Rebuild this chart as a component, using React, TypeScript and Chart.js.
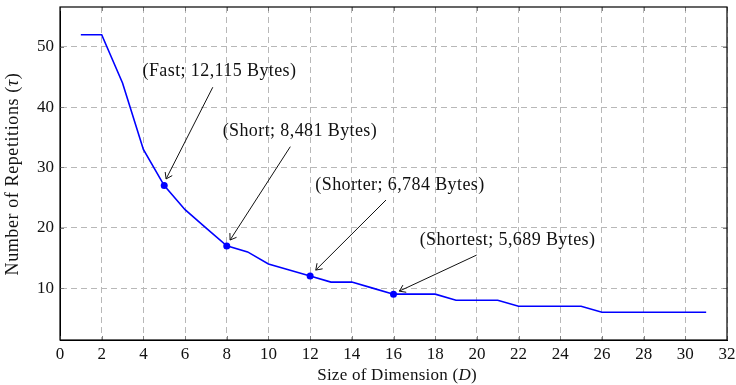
import React, { useEffect, useRef } from 'react';
import { Chart, registerables } from 'chart.js';

Chart.register(...registerables);

const dimensions = [1, 2, 3, 4, 5, 6, 7, 8, 9, 10, 11, 12, 13, 14, 15, 16, 17, 18, 19, 20, 21, 22, 23, 24, 25, 26, 27, 28, 29, 30, 31];
const repetitions = [52, 52, 44, 33, 27, 23, 20, 17, 16, 14, 13, 12, 11, 11, 10, 9, 9, 9, 8, 8, 8, 7, 7, 7, 7, 6, 6, 6, 6, 6, 6];
const markedDimensions = [5, 8, 12, 16];

const xTicks = [0, 2, 4, 6, 8, 10, 12, 14, 16, 18, 20, 22, 24, 26, 28, 30, 32];
const yTicks = [10, 20, 30, 40, 50];

const annLabels = ['(Fast; 12,115 Bytes)', '(Short; 8,481 Bytes)', '(Shorter; 6,784 Bytes)', '(Shortest; 5,689 Bytes)'];
const annTextX = [7.65, 11.51, 16.31, 21.47];
const annTextY = [46.0, 36.06, 27.1, 17.85];
const annTailX = [7.33, 11.05, 15.64, 19.99];
const annTailY = [43.3, 33.45, 24.6, 15.48];
const annHeadX = [5.09, 8.16, 12.27, 16.28];
const annHeadY = [28.1, 17.97, 12.99, 9.5];

const FONT = '"Liberation Serif", "Times New Roman", serif';

const overlayPlugin = {
  id: 'overlay',
  afterDatasetsDraw(chart: any) {
    const ctx = chart.ctx;
    const a = chart.chartArea;
    const xs = chart.scales.x;
    const ys = chart.scales.y;
    ctx.save();
    ctx.strokeStyle = '#808080';
    ctx.lineWidth = 1;
    ctx.beginPath();
    xTicks.forEach((t) => {
      const px = Math.round(xs.getPixelForValue(t)) + 0.5;
      ctx.moveTo(px, a.bottom);
      ctx.lineTo(px, a.bottom - 4);
      ctx.moveTo(px, a.top);
      ctx.lineTo(px, a.top + 4);
    });
    yTicks.forEach((t) => {
      const py = Math.round(ys.getPixelForValue(t)) + 0.5;
      ctx.moveTo(a.left, py);
      ctx.lineTo(a.left + 4, py);
      ctx.moveTo(a.right, py);
      ctx.lineTo(a.right - 4, py);
    });
    ctx.stroke();
    ctx.strokeStyle = '#000';
    ctx.lineWidth = 1.2;
    ctx.strokeRect(a.left, a.top, a.right - a.left, a.bottom - a.top);
    ctx.restore();
  },
  afterDraw(chart: any) {
    const ctx = chart.ctx;
    const a = chart.chartArea;
    const xs = chart.scales.x;
    const ys = chart.scales.y;
    ctx.save();
    ctx.fillStyle = '#111';
    ctx.strokeStyle = '#111';
    ctx.lineWidth = 1;
    ctx.font = `18px ${FONT}`;
    (ctx as any).letterSpacing = '0.4px';
    ctx.textAlign = 'center';
    ctx.textBaseline = 'middle';
    annLabels.forEach((lbl, i) => {
      const tx = xs.getPixelForValue(annTextX[i]);
      const ty = ys.getPixelForValue(annTextY[i]);
      ctx.fillText(lbl, tx, ty);
      const x1 = xs.getPixelForValue(annTailX[i]);
      const y1 = ys.getPixelForValue(annTailY[i]);
      const x2 = xs.getPixelForValue(annHeadX[i]);
      const y2 = ys.getPixelForValue(annHeadY[i]);
      ctx.beginPath();
      ctx.moveTo(x1, y1);
      ctx.lineTo(x2, y2);
      ctx.stroke();
      const ang = Math.atan2(y2 - y1, x2 - x1);
      const L = 7;
      const spread = 0.6;
      ctx.beginPath();
      ctx.moveTo(x2 - L * Math.cos(ang - spread), y2 - L * Math.sin(ang - spread));
      ctx.lineTo(x2, y2);
      ctx.lineTo(x2 - L * Math.cos(ang + spread), y2 - L * Math.sin(ang + spread));
      ctx.stroke();
    });
    const drawMixed = (parts: [string, boolean][], cx: number, cy: number, size: number, spacing: number) => {
      (ctx as any).letterSpacing = `${spacing}px`;
      let total = 0;
      const widths = parts.map(([t, it]) => {
        ctx.font = `${it ? 'italic ' : ''}${size}px ${FONT}`;
        const w = ctx.measureText(t).width;
        total += w;
        return w;
      });
      let x = cx - total / 2;
      ctx.textAlign = 'left';
      ctx.textBaseline = 'middle';
      parts.forEach(([t, it], i) => {
        ctx.font = `${it ? 'italic ' : ''}${size}px ${FONT}`;
        ctx.fillText(t, x, cy);
        x += widths[i];
      });
    };
    ctx.fillStyle = '#111';
    drawMixed([['Size of Dimension (', false], ['D', true], [')', false]], 397, 376, 17, 0.25);
    ctx.save();
    ctx.translate(13, 174);
    ctx.rotate(-Math.PI / 2);
    drawMixed([['Number of Repetitions (', false], ['τ', true], [')', false]], 0, 0, 18, 0.6);
    ctx.restore();
    ctx.restore();
  },
};

export default function App() {
  const ref = useRef<HTMLCanvasElement | null>(null);
  useEffect(() => {
    document.body.style.margin = '0';
    const canvas = ref.current;
    if (!canvas) return;
    const points = dimensions.map((d, i) => ({ x: d, y: repetitions[i] }));
    const radii = dimensions.map((d) => (markedDimensions.includes(d) ? 3.5 : 0));
    const chart = new Chart(canvas, {
      type: 'line',
      data: {
        datasets: [
          {
            data: points,
            borderColor: '#0000ff',
            backgroundColor: '#0000ff',
            borderWidth: 1.6,
            pointRadius: radii,
            pointBorderWidth: 0,
            pointBackgroundColor: '#0000ff',
            tension: 0,
            fill: false,
          },
        ],
      },
      plugins: [overlayPlugin],
      options: {
        responsive: false,
        animation: false,
        devicePixelRatio: 1,
        layout: { padding: { top: 7, right: 9, left: 0, bottom: 0 } },
        plugins: { legend: { display: false }, tooltip: { enabled: false } },
        scales: {
          x: {
            type: 'linear',
            min: 0,
            max: 32,
            afterBuildTicks: (s: any) => {
              s.ticks = xTicks.map((v) => ({ value: v }));
            },
            afterFit: (s: any) => {
              s.height = 45;
              s.paddingLeft = 0;
              s.paddingRight = 0;
            },
            grid: { color: '#b8b8b8', lineWidth: 1, drawTicks: false },
            border: { display: true, color: '#000', width: 1, dash: [6, 4] },
            ticks: {
              font: { family: FONT, size: 17 },
              color: '#111',
              padding: 4,
              maxRotation: 0,
              autoSkip: false,
            },
          },
          y: {
            type: 'linear',
            min: 1.4,
            max: 56.6,
            afterBuildTicks: (s: any) => {
              s.ticks = yTicks.map((v) => ({ value: v }));
            },
            afterFit: (s: any) => {
              s.width = 60;
              s.paddingTop = 0;
              s.paddingBottom = 0;
            },
            grid: { color: '#b8b8b8', lineWidth: 1, drawTicks: false },
            border: { display: true, color: '#000', width: 1, dash: [6, 4] },
            ticks: {
              font: { family: FONT, size: 17 },
              color: '#111',
              padding: 6,
              autoSkip: false,
            },
          },
        },
      },
    });
    return () => chart.destroy();
  }, []);
  return <canvas ref={ref} width={736} height={385} style={{ display: 'block', width: 736, height: 385 }} />;
}
